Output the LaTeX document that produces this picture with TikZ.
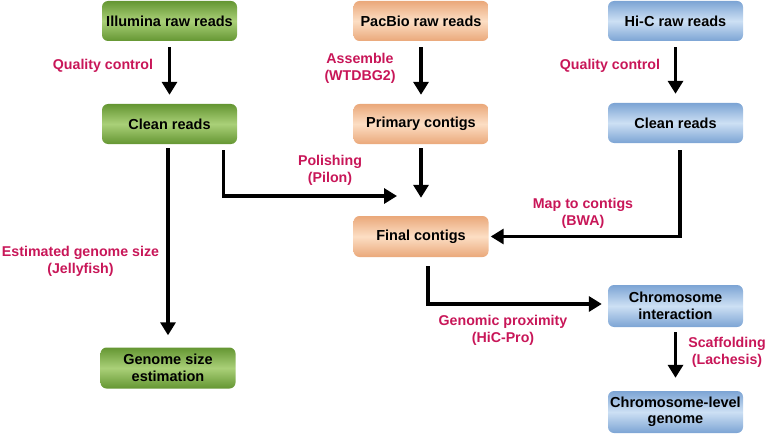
\documentclass[tikz,border=0pt]{standalone}
\usepackage{fontspec}
\setmainfont{Liberation Sans}
\usetikzlibrary{arrows.meta,calc}
\definecolor{lbl}{RGB}{200,22,88}
\definecolor{gEdge}{RGB}{100,150,50}
\definecolor{gMid}{RGB}{170,208,120}
\definecolor{pEdge}{RGB}{234,168,122}
\definecolor{pMid}{RGB}{252,222,196}
\definecolor{bEdge}{RGB}{124,164,212}
\definecolor{bMid}{RGB}{205,224,244}
\tikzset{
  box/.style={rounded corners=6pt, minimum width=135pt, minimum height=40pt,
    align=center, inner sep=1pt, font=\fontsize{14.5}{16.5}\selectfont\bfseries},
  gbox/.style={box, top color=gEdge, bottom color=gEdge, middle color=gMid},
  pbox/.style={box, top color=pEdge, bottom color=pEdge, middle color=pMid},
  bbox/.style={box, top color=bEdge, bottom color=bEdge, middle color=bMid},
  lab/.style={text=lbl, align=center, font=\fontsize{14.2}{16.5}\selectfont\bfseries, inner sep=0pt},
  arr/.style={line width=3.5pt, -{Triangle[length=13pt,width=15pt]}},
}
\begin{document}
\begin{tikzpicture}[x=1pt,y=-1pt]
\useasboundingbox (0,0) rectangle (767,433);
% nodes
\node[gbox] (ill) at (169.5,21) {Illumina raw reads};
\node[pbox] (pac) at (421,21) {PacBio raw reads};
\node[bbox] (hic) at (675.5,21) {Hi-C raw reads};
\node[gbox] (cleanG) at (169.5,124) {Clean reads};
\node[pbox] (prim) at (421,124) {Primary contigs};
\node[bbox] (cleanB) at (675.5,123) {Clean reads};
\node[pbox, minimum height=41pt] (final) at (421,236.5) {Final contigs};
\node[bbox, minimum height=42pt] (chrI) at (675.5,306) {Chromosome\\interaction};
\node[bbox, minimum height=42pt] (chrL) at (675.5,412) {Chromosome-level\\genome};
\node[gbox, minimum height=41pt] (gse) at (168,368) {Genome size\\estimation};
% coordinates
\coordinate (polend) at (397,196);
% arrows
\draw[arr, shorten <=6pt, shorten >=9pt] (ill) -- (cleanG);
\draw[arr, shorten <=6pt, shorten >=9pt] (pac) -- (prim);
\draw[arr, shorten <=6pt, shorten >=9pt] (hic) -- (cleanB);
\draw[arr, shorten <=4pt, shorten >=12pt] (cleanG.south -| gse.north) -- (gse.north);
\draw[arr, shorten <=4pt, shorten >=18pt] (prim) -- (final);
\draw[arr] ($(cleanG.south)+(54,6)$) |- (polend);
\draw[arr] ($(cleanB.south)+(4.5,7)$) |- ($(final.east)+(2,0)$);
\draw[arr] ($(final.south)+(7,9)$) |- ($(chrI.west)+(-6,-2)$);
\draw[arr, shorten <=5pt, shorten >=13pt] (chrI) -- (chrL);
% labels
\node[lab] (l1) at (103,66) {Quality control};
\node[lab] (l2) at (360,68.5) {Assemble\\(WTDBG2)};
\node[lab] (l3) at (610,66) {Quality control};
\node[lab] (l4) at (330,170.5) {Polishing\\(Pilon)};
\node[lab] (l5) at (583,213.5) {Map to contigs\\(BWA)};
\node[lab] (l6) at (80.5,261.5) {Estimated genome size\\(Jellyfish)};
\node[lab] (l7) at (503,330.5) {Genomic proximity\\(HiC-Pro)};
\node[lab] (l8) at (727,352.5) {Scaffolding\\(Lachesis)};
\end{tikzpicture}
\end{document}
